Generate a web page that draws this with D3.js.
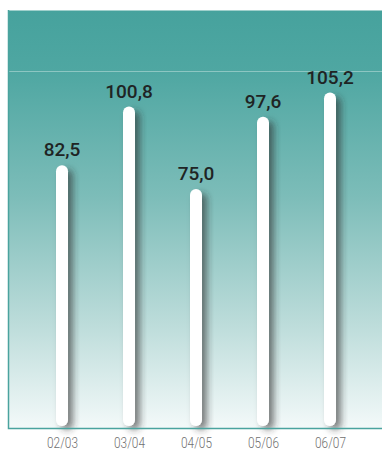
<!DOCTYPE html>
<html>
<head>
<meta charset="utf-8">
<script src="https://cdn.jsdelivr.net/npm/d3@7"></script>
<style>
  body { margin: 0; background: #fff; }
  svg { display: block; }
</style>
</head>
<body>
<div id="chart"></div>
<script>
const W = 382, H = 452;
const panel = {left: 8, top: 10, right: 382, bottom: 428};

// data
var seasons = ["02/03", "03/04", "04/05", "05/06", "06/07"];
var values = [82.5, 100.8, 75.0, 97.6, 105.2];
var gridValues = [112];

var xScale = d3.scalePoint().domain(seasons).range([62, 330]);
var yScale = d3.scaleLinear().domain([0, 131]).range([429, panel.top]);

var svg = d3.select("#chart").append("svg")
    .attr("width", W)
    .attr("height", H);

var defs = svg.append("defs");

var grad = defs.append("linearGradient")
    .attr("id", "bg-grad")
    .attr("x1", "0%").attr("y1", "0%")
    .attr("x2", "0%").attr("y2", "100%");
grad.selectAll("stop")
    .data([
        {offset: "0%", color: "#46a29d"},
        {offset: "15%", color: "#4fa7a2"},
        {offset: "45%", color: "#7dbdb9"},
        {offset: "75%", color: "#bcdcda"},
        {offset: "100%", color: "#f3f9f9"}
    ])
    .enter().append("stop")
    .attr("offset", function(d) { return d.offset; })
    .attr("stop-color", function(d) { return d.color; });

var shadow = defs.append("filter")
    .attr("id", "bar-shadow")
    .attr("x", "-100%").attr("y", "-20%")
    .attr("width", "300%").attr("height", "140%");
shadow.append("feDropShadow")
    .attr("dx", 5)
    .attr("dy", 4)
    .attr("stdDeviation", 3.5)
    .attr("flood-color", "#2a2a2a")
    .attr("flood-opacity", 0.6);

// background panel
svg.append("rect")
    .attr("x", panel.left)
    .attr("y", panel.top)
    .attr("width", panel.right - panel.left)
    .attr("height", panel.bottom - panel.top)
    .attr("fill", "url(#bg-grad)");

// light top edge + gridline
svg.append("line")
    .attr("x1", panel.left).attr("x2", panel.right)
    .attr("y1", panel.top + 0.5).attr("y2", panel.top + 0.5)
    .attr("stroke", "#9fd0cc")
    .attr("stroke-width", 1);

svg.selectAll(".grid")
    .data(gridValues)
    .enter().append("line")
    .attr("class", "grid")
    .attr("x1", panel.left).attr("x2", panel.right)
    .attr("y1", function(d) { return Math.round(yScale(d)) + 0.5; })
    .attr("y2", function(d) { return Math.round(yScale(d)) + 0.5; })
    .attr("stroke", "#8cc6c2")
    .attr("stroke-width", 1);

// bars
var barW = 12;
svg.selectAll(".bar")
    .data(values)
    .enter().append("rect")
    .attr("class", "bar")
    .attr("x", function(d, i) { return xScale(seasons[i]) - barW / 2; })
    .attr("y", function(d) { return yScale(d); })
    .attr("width", barW)
    .attr("height", function(d) { return 426 - yScale(d); })
    .attr("rx", barW / 2)
    .attr("fill", "#ffffff")
    .attr("filter", "url(#bar-shadow)");

// axis border lines (left + bottom)
svg.append("path")
    .attr("d", "M" + (panel.left + 0.5) + "," + panel.top + "V" + (panel.bottom + 0.5) + "H" + panel.right)
    .attr("fill", "none")
    .attr("stroke", "#4aa39e")
    .attr("stroke-width", 1.5);

// value labels
svg.selectAll(".val")
    .data(values)
    .enter().append("text")
    .attr("class", "val")
    .attr("x", function(d, i) { return xScale(seasons[i]); })
    .attr("y", function(d) { return yScale(d) - 9; })
    .attr("text-anchor", "middle")
    .attr("font-family", "Roboto, sans-serif")
    .attr("font-weight", 500)
    .attr("font-size", 19)
    .attr("fill", "#1f2424")
    .text(function(d) { return d.toFixed(1).replace(".", ","); });

// category labels
var xAxis = d3.axisBottom(xScale).tickSize(0).tickPadding(0);
var gx = svg.append("g")
    .attr("transform", "translate(0,448)")
    .call(xAxis);
gx.select(".domain").remove();
gx.selectAll("text")
    .attr("y", 0)
    .attr("dy", 0)
    .attr("font-family", "Roboto, sans-serif")
    .attr("font-weight", 300)
    .attr("font-size", 14)
    .attr("textLength", 31)
    .attr("lengthAdjust", "spacingAndGlyphs")
    .attr("fill", "#707070");
</script>
</body>
</html>
